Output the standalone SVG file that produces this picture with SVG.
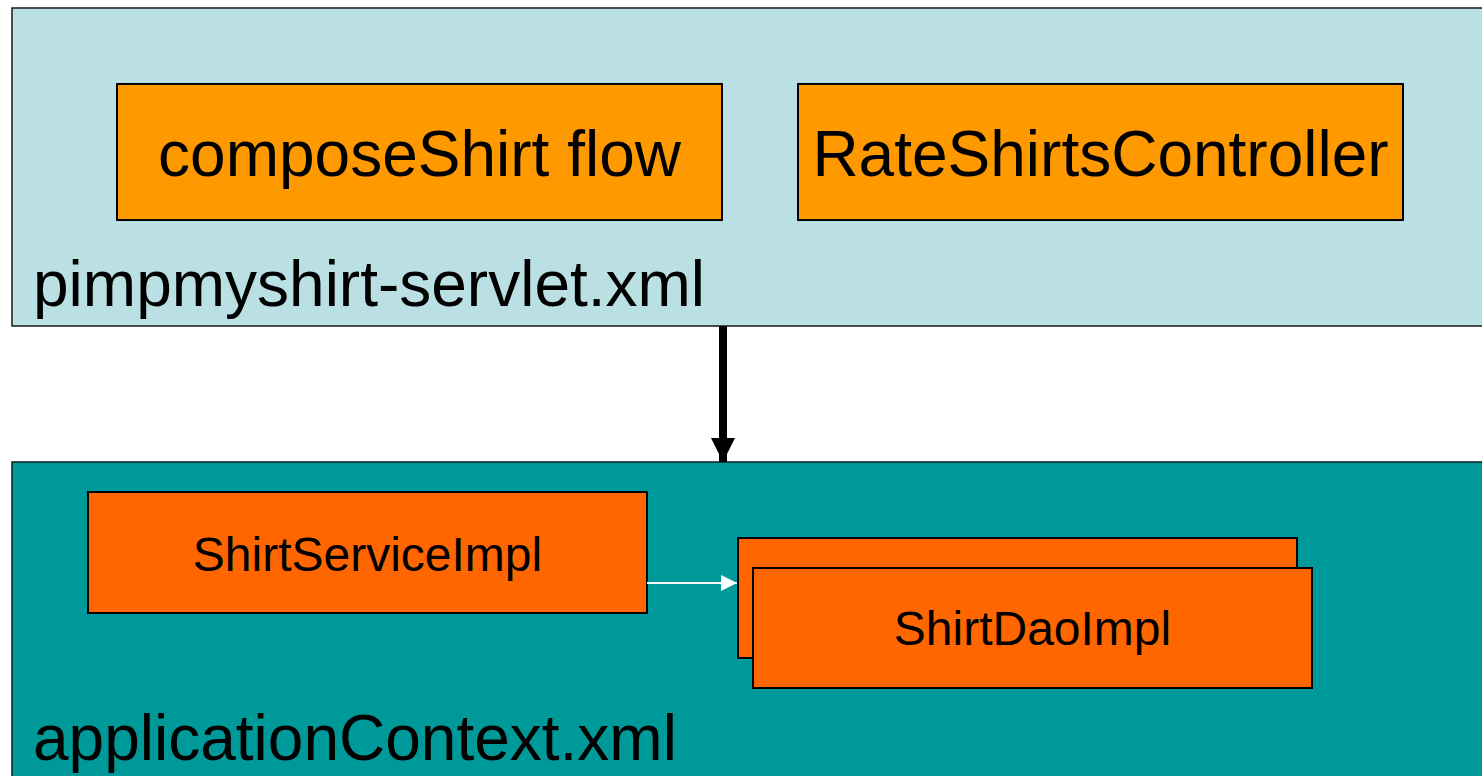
<svg xmlns="http://www.w3.org/2000/svg" width="1482" height="776" viewBox="0 0 1482 776">
  <style>
    .label { font-family: "Liberation Sans", Arial, sans-serif; fill: #000; }
    .big { font-size: 64px; }
    .small { font-size: 48px; }
    .ctx { stroke: #1a1a1a; stroke-width: 1.5; }
    .web { fill: #BBE0E3; }
    .app { fill: #009999; }
    .bean { stroke: #000; stroke-width: 2; }
    .web-bean { fill: #FF9900; }
    .app-bean { fill: #FF6600; }
  </style>
  <defs>
    <marker id="headBlack" markerWidth="24" markerHeight="24" refX="24" refY="12" orient="auto" markerUnits="userSpaceOnUse">
      <path d="M0,0 L24,12 L0,24 Z" fill="#000"/>
    </marker>
    <marker id="headWhite" markerWidth="16" markerHeight="16" refX="16" refY="8" orient="auto" markerUnits="userSpaceOnUse">
      <path d="M0,0 L16,8 L0,16 Z" fill="#fff"/>
    </marker>
  </defs>

  <rect width="1482" height="776" fill="#fff"/>

  <!-- web application context -->
  <g id="servlet-context">
    <rect class="ctx web" x="12" y="8" width="1480" height="318"/>
    <text class="label big" x="33" y="306">pimpmyshirt-servlet.xml</text>
  </g>
  <g id="compose-shirt-flow">
    <rect class="bean web-bean" x="117" y="84" width="605" height="136"/>
    <text class="label big" x="419.5" y="176" text-anchor="middle">composeShirt flow</text>
  </g>
  <g id="rate-shirts-controller">
    <rect class="bean web-bean" x="798" y="84" width="605" height="136"/>
    <text class="label big" x="1100.5" y="176" text-anchor="middle">RateShirtsController</text>
  </g>

  <!-- root application context -->
  <g id="application-context">
    <rect class="ctx app" x="12" y="462" width="1480" height="330"/>
    <text class="label big" x="33" y="760">applicationContext.xml</text>
  </g>
  <g id="shirt-service-impl">
    <rect class="bean app-bean" x="88" y="492" width="559" height="121"/>
    <text class="label small" x="367.5" y="571" text-anchor="middle">ShirtServiceImpl</text>
  </g>
  <g id="shirt-dao-impl">
    <rect class="bean app-bean" x="738" y="538" width="559" height="120"/>
    <rect class="bean app-bean" x="753" y="568" width="559" height="120"/>
    <text class="label small" x="1032.5" y="645" text-anchor="middle">ShirtDaoImpl</text>
  </g>

  <!-- connectors -->
  <g id="connectors">
    <line x1="723" y1="326" x2="723" y2="462" stroke="#000" stroke-width="8" marker-end="url(#headBlack)"/>
    <line x1="647" y1="583" x2="737" y2="583" stroke="#fff" stroke-width="2" marker-end="url(#headWhite)"/>
  </g>
</svg>
